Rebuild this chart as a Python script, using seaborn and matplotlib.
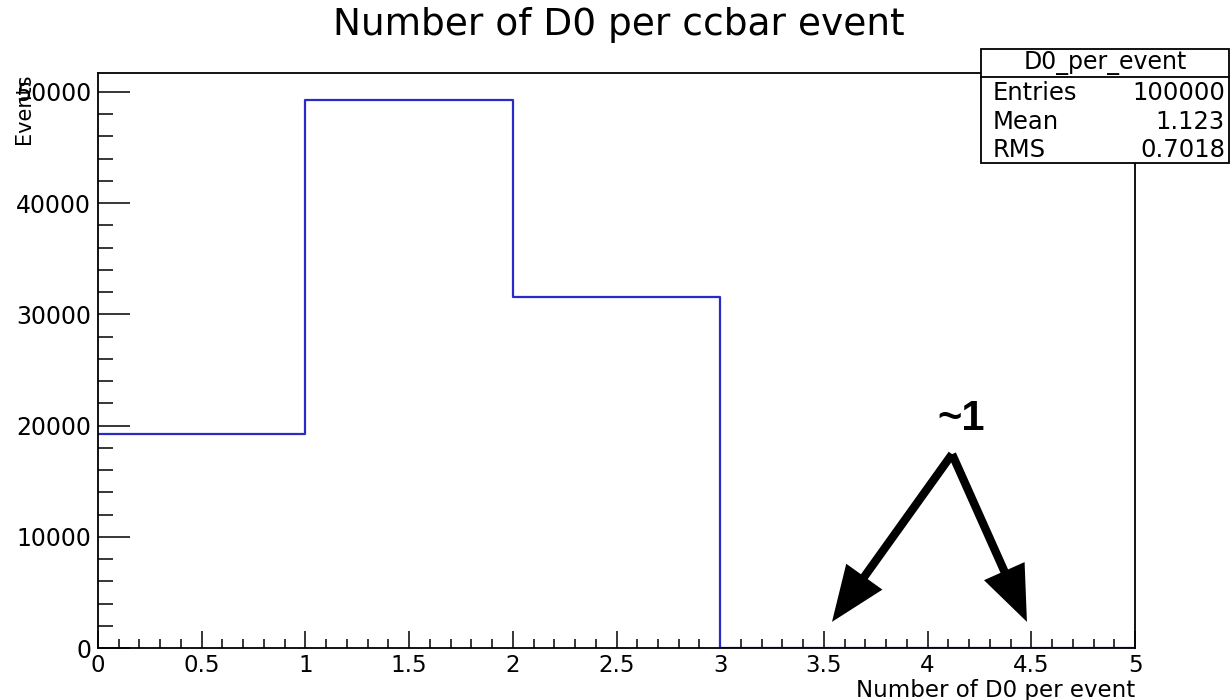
import numpy as np
import pandas as pd
import matplotlib
matplotlib.use("Agg")
import matplotlib.pyplot as plt
from matplotlib.patches import Rectangle, ArrowStyle
from matplotlib.lines import Line2D
from matplotlib.ticker import MultipleLocator
import seaborn as sns

# ---- data ----
bin_edges = [0, 1, 2, 3, 4, 5]
bin_counts = [19230, 49240, 31527, 1, 1]
title = "Number of D0 per ccbar event"
xlabel = "Number of D0 per event"
ylabel = "Events"
stats_name = "D0_per_event"
stats_labels = ["Entries", "Mean", "RMS"]
stats_values = ["100000", "1.123", "0.7018"]
note_text = "~1"

sns.set_theme(style="white")
plt.rcParams["font.family"] = ["DejaVu Sans"]
plt.rcParams["text.color"] = "black"

W, H = 1230, 700
fig = plt.figure(figsize=(W / 100, H / 100), dpi=100)
ax = fig.add_axes([98 / W, 1 - 648 / H, 1037 / W, 575 / H])

centers = [(bin_edges[i] + bin_edges[i + 1]) / 2 for i in range(len(bin_counts))]
df = pd.DataFrame({"x": centers, "w": bin_counts})
sns.histplot(data=df, x="x", weights="w", bins=bin_edges, element="step",
             fill=False, color="#2a2ac8", linewidth=1.6, ax=ax)

ax.set_xlim(0, 5)
ax.set_ylim(0, 1.05 * max(bin_counts))
ax.set_xlabel("")
ax.set_ylabel("")

ax.xaxis.set_major_locator(MultipleLocator(0.5))
ax.xaxis.set_minor_locator(MultipleLocator(0.1))
ax.yaxis.set_major_locator(MultipleLocator(10000))
ax.yaxis.set_minor_locator(MultipleLocator(2000))
ax.xaxis.set_major_formatter(matplotlib.ticker.FuncFormatter(lambda v, p: f"{v:g}"))
ax.yaxis.set_major_formatter(matplotlib.ticker.FuncFormatter(lambda v, p: f"{v:g}"))

ax.tick_params(axis="x", which="major", direction="in", length=12, width=1.1,
               labelsize=16.5, pad=4, colors="black", bottom=True, top=False)
ax.tick_params(axis="x", which="minor", direction="in", length=6.5, width=1.1,
               bottom=True, top=False, colors="black")
ax.tick_params(axis="y", which="major", direction="in", length=23, width=1.1,
               labelsize=17, pad=5, colors="black", left=True, right=False)
ax.tick_params(axis="y", which="minor", direction="in", length=11, width=1.1,
               left=True, right=False, colors="black")
for s in ax.spines.values():
    s.set_color("black")
    s.set_linewidth(1.3)

# title and axis labels
fig.text(619 / W, 1 - 25 / H, title, ha="center", va="center", fontsize=27, color="black")
fig.text(1135 / W, 1 - 690 / H, xlabel, ha="right", va="center", fontsize=16.5, color="black")
fig.text(24 / W, 1 - 73 / H, ylabel, ha="center", va="top", rotation=90,
         fontsize=15, color="black")

# stats box
bx0, bx1, by0, by1 = 981, 1229, 49, 163
fig.patches.append(Rectangle((bx0 / W, 1 - by1 / H), (bx1 - bx0) / W, (by1 - by0) / H,
                             transform=fig.transFigure, facecolor="white",
                             edgecolor="black", linewidth=1.3, zorder=5))
fig.lines.append(Line2D([bx0 / W, bx1 / W], [1 - 77 / H, 1 - 77 / H],
                        transform=fig.transFigure, color="black", linewidth=1.3, zorder=6))
fig.text((bx0 + bx1) / 2 / W, 1 - 63 / H, stats_name, ha="center", va="center",
         fontsize=17, zorder=7, color="black")
row_y = [93, 122, 150]
for lab, val, yy in zip(stats_labels, stats_values, row_y):
    fig.text(993 / W, 1 - yy / H, lab, ha="left", va="center", fontsize=17.5,
             zorder=7, color="black")
    fig.text(1225 / W, 1 - yy / H, val, ha="right", va="center", fontsize=17.5,
             zorder=7, color="black")

# annotation
style = ArrowStyle("simple", head_length=2.0, head_width=1.6, tail_width=0.3)
for tip_x in (3.539, 4.479):
    ax.annotate("", xy=(tip_x, 2350), xytext=(4.118, 17430),
                arrowprops=dict(arrowstyle=style, mutation_scale=20, lw=0,
                                color="black", shrinkA=0, shrinkB=0),
                annotation_clip=False)
ax.text(4.161, 20600, note_text, ha="center", va="center", fontsize=30,
        fontweight="bold", family=["Liberation Sans", "DejaVu Sans"], color="black")

fig.savefig("out.png", dpi=100, facecolor="white")
